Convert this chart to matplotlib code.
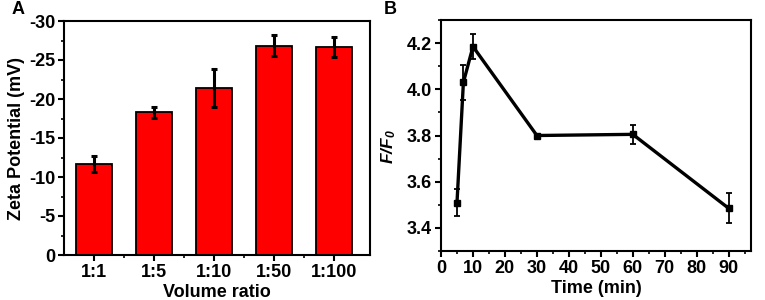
import matplotlib
matplotlib.use("Agg")
import matplotlib.pyplot as plt
from matplotlib.ticker import MultipleLocator, FixedLocator

plt.rcParams['font.family'] = ['Liberation Sans', 'DejaVu Sans']
plt.rcParams['font.weight'] = 'bold'
plt.rcParams['axes.unicode_minus'] = False
plt.rcParams['mathtext.fontset'] = 'custom'
plt.rcParams['mathtext.it'] = 'Liberation Sans:italic:bold'
plt.rcParams['mathtext.rm'] = 'Liberation Sans:italic:bold'

# Panel A data
ratios = ['1:1', '1:5', '1:10', '1:50', '1:100']
zeta = [-11.65, -18.3, -21.45, -26.8, -26.7]
zeta_err = [1.0, 0.7, 2.45, 1.35, 1.3]

# Panel B data
time_min = [5, 7, 10, 30, 60, 90]
ff0 = [3.51, 4.03, 4.185, 3.80, 3.805, 3.485]
ff0_err = [0.06, 0.075, 0.055, 0.006, 0.04, 0.065]

fig = plt.figure(figsize=(7.65, 3.0), dpi=100)
axA = fig.add_axes([0.0837, 0.15, 0.40, 0.78])
axB = fig.add_axes([0.5765, 0.1633, 0.4052, 0.77])

fs = 13
x = list(range(len(ratios)))
axA.bar(x, zeta, width=0.61, color='#ff0000', edgecolor='black', linewidth=1.3, zorder=2)
axA.errorbar(x, zeta, yerr=zeta_err, fmt='none', ecolor='black', elinewidth=2.2,
             capsize=2.5, capthick=2.2, zorder=3)
axA.set_xlim(-0.5, 4.6)
axA.set_ylim(0, -30)
axA.set_xticks(x)
axA.set_xticklabels(ratios)
axA.xaxis.set_minor_locator(FixedLocator([i + 0.5 for i in x[:-1]]))
axA.yaxis.set_major_locator(MultipleLocator(5))
axA.yaxis.set_minor_locator(MultipleLocator(2.5))
axA.set_ylabel('Zeta Potential (mV)', fontsize=fs, fontweight='bold', labelpad=3)
axA.set_xlabel('Volume ratio', fontsize=fs, fontweight='bold', labelpad=2)

axB.errorbar(time_min, ff0, yerr=ff0_err, fmt='-s', color='black', lw=2.4,
             markersize=4, elinewidth=1.3, capsize=2.5, capthick=1.3)
axB.set_xlim(0, 97)
axB.set_ylim(3.3, 4.3)
axB.xaxis.set_major_locator(MultipleLocator(10))
axB.xaxis.set_minor_locator(MultipleLocator(5))
axB.yaxis.set_major_locator(MultipleLocator(0.2))
axB.yaxis.set_minor_locator(MultipleLocator(0.1))
axB.yaxis.set_major_formatter(matplotlib.ticker.FormatStrFormatter('%.1f'))
axB.set_ylabel(r'$F/F_0$', fontsize=12.5)
axB.yaxis.set_label_coords(-0.138, 0.45)
axB.set_xlabel('Time (min)', fontsize=fs, fontweight='bold', labelpad=2)

for ax in (axA, axB):
    for s in ax.spines.values():
        s.set_linewidth(1.5)
    ax.tick_params(which='major', direction='out', length=4, width=1.5,
                   labelsize=fs, top=False, right=False, pad=2.5)
    ax.tick_params(which='minor', direction='out', length=2.5, width=1.2,
                   top=False, right=False)
    for lab in ax.get_xticklabels() + ax.get_yticklabels():
        lab.set_fontweight('bold')

fig.text(12 / 765, 1 - 10 / 300, 'A', fontsize=13, fontweight='bold', va='center', ha='left')
fig.text(384 / 765, 1 - 10 / 300, 'B', fontsize=13, fontweight='bold', va='center', ha='left')

fig.savefig('out.png', dpi=100)
